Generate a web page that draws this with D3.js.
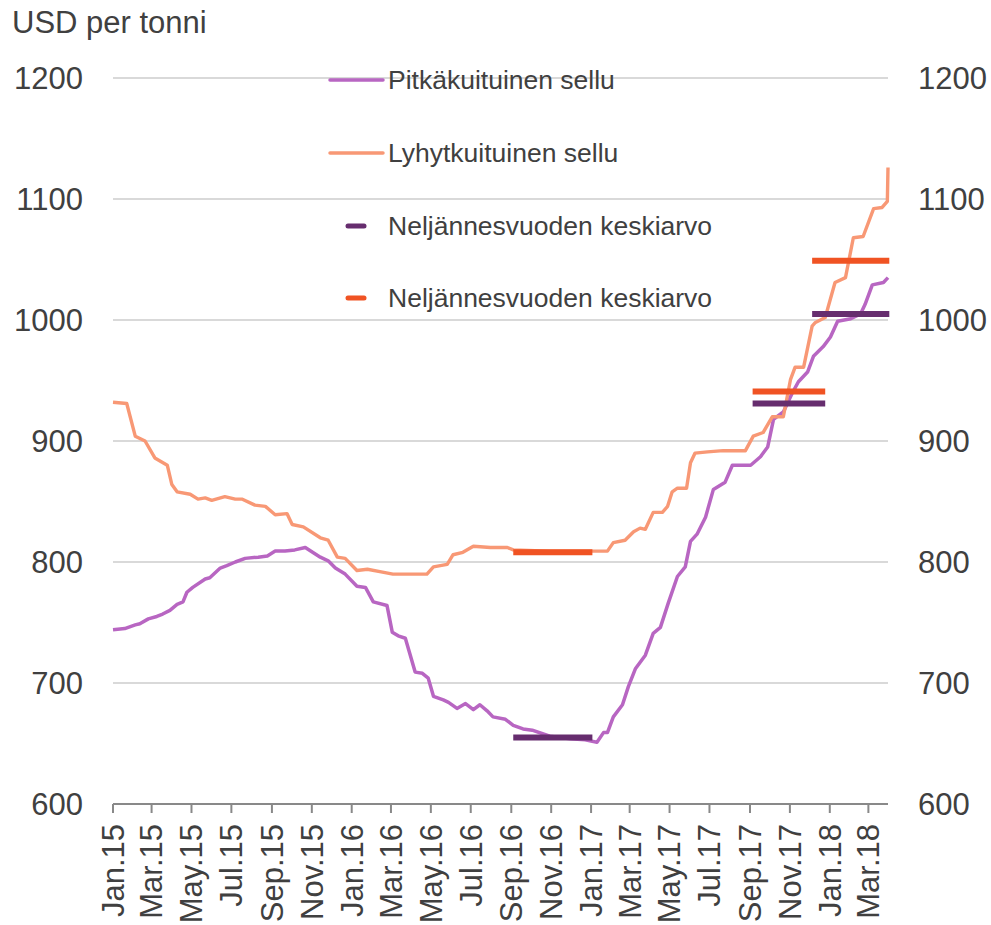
<html>
<head>
<meta charset="utf-8">
<script src="https://cdnjs.cloudflare.com/ajax/libs/d3/7.8.5/d3.min.js"></script>
<style>
body { margin: 0; background: #fff; }
text { font-family: "Liberation Sans", Arial, sans-serif; fill: #404040; }
.grid { stroke: #d9d9d9; stroke-width: 2; }
.axis { stroke: #898989; stroke-width: 2; }
path { fill: none; }
</style>
</head>
<body>
<script>

// Pitkäkuituinen sellu (long fibre pulp), USD per tonne
var pitkaDates = ["2015-01-01","2015-01-19","2015-02-04","2015-02-11","2015-02-24","2015-03-09","2015-03-18","2015-03-29",
  "2015-04-09","2015-04-18","2015-04-24","2015-05-03","2015-05-22","2015-05-29","2015-06-14","2015-06-24","2015-07-07",
  "2015-07-22","2015-08-11","2015-08-25","2015-09-06","2015-09-21","2015-10-06","2015-10-22","2015-11-14","2015-11-26",
  "2015-12-07","2015-12-22","2016-01-09","2016-01-22","2016-02-03","2016-02-24","2016-03-03","2016-03-12","2016-03-23",
  "2016-04-07","2016-04-18","2016-04-27","2016-05-05","2016-05-20","2016-05-28","2016-06-10","2016-06-23","2016-07-05",
  "2016-07-15","2016-07-26","2016-08-04","2016-08-23","2016-09-04","2016-09-19","2016-10-03","2016-10-30","2016-11-30",
  "2016-12-23","2017-01-10","2017-01-20","2017-01-26","2017-02-04","2017-02-18","2017-02-27","2017-03-10","2017-03-25",
  "2017-04-06","2017-04-17","2017-04-29","2017-05-13","2017-05-25","2017-06-02","2017-06-12","2017-06-25","2017-07-07",
  "2017-07-25","2017-08-05","2017-09-02","2017-09-17","2017-09-28","2017-10-07","2017-10-22","2017-11-05","2017-11-14",
  "2017-11-28","2017-12-07","2017-12-22","2018-01-02","2018-01-13","2018-02-02","2018-02-17","2018-02-24","2018-03-07",
  "2018-03-24","2018-03-31"];
var pitkaValues = [744,745,748,749,753,755,757,760,
  765,767,775,779,786,787,795,797,800,
  803,804,805,809,809,810,812,804,801,
  795,790,780,779,767,764,742,739,737,
  709,708,704,689,686,684,679,683,678,
  682,677,672,670,665,662,661,656,654,
  653,651,659,659,672,682,697,712,723,
  741,746,766,788,796,817,823,837,860,
  866,880,880,887,895,918,924,940,949,
  957,970,978,986,999,1001,1005,1013,1029,
  1031,1035];

// Lyhytkuituinen sellu (short fibre pulp), USD per tonne
var lyhytDates = ["2015-01-01","2015-01-22","2015-02-04","2015-02-19","2015-03-06","2015-03-25","2015-04-01","2015-04-09",
  "2015-04-29","2015-05-11","2015-05-22","2015-06-01","2015-06-21","2015-07-07","2015-07-17","2015-08-06","2015-08-22",
  "2015-09-06","2015-09-24","2015-10-02","2015-10-19","2015-11-14","2015-11-26","2015-12-10","2015-12-22","2016-01-09",
  "2016-01-25","2016-02-13","2016-03-04","2016-03-30","2016-04-25","2016-05-05","2016-05-26","2016-06-04","2016-06-19",
  "2016-07-05","2016-07-31","2016-08-26","2016-09-04","2016-10-30","2017-01-04","2017-01-26","2017-02-04","2017-02-22",
  "2017-03-07","2017-03-17","2017-03-25","2017-04-06","2017-04-20","2017-04-28","2017-05-05","2017-05-13","2017-05-27",
  "2017-06-02","2017-06-09","2017-06-28","2017-07-22","2017-08-25","2017-09-06","2017-09-21","2017-10-05","2017-10-22",
  "2017-11-02","2017-11-09","2017-11-22","2017-12-05","2017-12-10","2017-12-25","2018-01-09","2018-01-25","2018-02-06",
  "2018-02-21","2018-03-09","2018-03-22","2018-03-30","2018-03-31"];
var lyhytValues = [932,931,904,900,886,880,864,858,
  856,852,853,851,854,852,852,847,846,
  839,840,831,829,820,818,804,803,793,
  794,792,790,790,790,796,798,806,808,
  813,812,812,810,809,809,809,816,818,
  825,828,827,841,841,846,858,861,861,
  882,890,891,892,892,904,907,920,920,
  951,961,961,995,998,1002,1031,1035,1068,
  1069,1092,1093,1098,1126];

// Neljännesvuoden keskiarvo (quarterly averages)
var avgStart = ["2016-09-04","2017-09-05","2017-12-05"];
var avgEnd = ["2017-01-03","2017-12-25","2018-04-02"];
var avgPitka = [655,931,1005];
var avgLyhyt = [808,941,1049];

var tickDates = ["2015-01-01","2015-03-01","2015-05-01","2015-07-01","2015-09-01","2015-11-01",
  "2016-01-01","2016-03-01","2016-05-01","2016-07-01","2016-09-01","2016-11-01",
  "2017-01-01","2017-03-01","2017-05-01","2017-07-01","2017-09-01","2017-11-01",
  "2018-01-01","2018-03-01"];
var tickLabels = ["Jan.15","Mar.15","May.15","Jul.15","Sep.15","Nov.15",
  "Jan.16","Mar.16","May.16","Jul.16","Sep.16","Nov.16",
  "Jan.17","Mar.17","May.17","Jul.17","Sep.17","Nov.17",
  "Jan.18","Mar.18"];
var yTicks = [600,700,800,900,1000,1100,1200];

var legendLabels = ["Pitkäkuituinen sellu","Lyhytkuituinen sellu","Neljännesvuoden keskiarvo","Neljännesvuoden keskiarvo"];

var purple = "#b866c2", orange = "#f89875", darkPurple = "#662d6e", darkOrange = "#f05323";

var parse = d3.timeParse("%Y-%m-%d");

var x = d3.scaleTime()
    .domain([parse("2015-01-01"), parse("2018-03-31")])
    .range([113, 888]);

var y = d3.scaleLinear()
    .domain([600, 1200])
    .range([804, 78]);

var svg = d3.select("body").append("svg")
    .attr("width", 991)
    .attr("height", 925);

// gridlines
svg.selectAll(".grid").data(yTicks.slice(1)).enter().append("line")
    .attr("class", "grid")
    .attr("x1", 113).attr("x2", 888)
    .attr("y1", d => y(d)).attr("y2", d => y(d));

// y labels, both sides
svg.selectAll(".yl").data(yTicks).enter().append("text")
    .attr("x", 83).attr("y", d => y(d)).attr("dy", "0.35em")
    .attr("text-anchor", "end").style("font-size", "31px")
    .text(d => d);
svg.selectAll(".yr").data(yTicks).enter().append("text")
    .attr("x", 918).attr("y", d => y(d)).attr("dy", "0.35em")
    .attr("text-anchor", "start").style("font-size", "31px")
    .text(d => d);

svg.append("text").attr("x", 12).attr("y", 33)
    .style("font-size", "31px").text("USD per tonni");

// x axis
svg.append("line").attr("class", "axis")
    .attr("x1", 113).attr("x2", 888).attr("y1", y(600)).attr("y2", y(600));
svg.selectAll(".xt").data(tickDates).enter().append("line")
    .attr("class", "axis")
    .attr("x1", d => x(parse(d))).attr("x2", d => x(parse(d)))
    .attr("y1", y(600)).attr("y2", y(600) + 9);
svg.selectAll(".xl").data(tickDates).enter().append("text")
    .attr("transform", d => "translate(" + x(parse(d)) + "," + (y(600) + 20) + ") rotate(-90)")
    .attr("dy", "0.35em").attr("text-anchor", "end")
    .style("font-size", "31px")
    .text((d, i) => tickLabels[i]);

var line = d3.line()
    .x(d => x(d[0]))
    .y(d => y(d[1]));

var pitka = pitkaDates.map((d, i) => [parse(d), pitkaValues[i]]);
var lyhyt = lyhytDates.map((d, i) => [parse(d), lyhytValues[i]]);

svg.append("path").datum(pitka).attr("d", line)
    .attr("stroke", purple).attr("stroke-width", 3.5).attr("stroke-linejoin", "round");
svg.append("path").datum(lyhyt).attr("d", line)
    .attr("stroke", orange).attr("stroke-width", 3.4).attr("stroke-linejoin", "round");

// quarterly average bars
avgStart.forEach(function (s, i) {
  svg.append("line")
    .attr("x1", x(parse(s))).attr("x2", x(parse(avgEnd[i])))
    .attr("y1", y(avgPitka[i])).attr("y2", y(avgPitka[i]))
    .attr("stroke", darkPurple).attr("stroke-width", 6);
  svg.append("line")
    .attr("x1", x(parse(s))).attr("x2", x(parse(avgEnd[i])))
    .attr("y1", y(avgLyhyt[i])).attr("y2", y(avgLyhyt[i]))
    .attr("stroke", darkOrange).attr("stroke-width", 6);
});

// legend
var legY = [80, 153, 226, 298];
var legColors = [purple, orange, darkPurple, darkOrange];
legendLabels.forEach(function (t, i) {
  var lx1 = i < 2 ? 330 : 348, lx2 = i < 2 ? 383 : 364;
  svg.append("line")
    .attr("x1", lx1).attr("x2", lx2).attr("y1", legY[i]).attr("y2", legY[i])
    .attr("stroke", legColors[i]).attr("stroke-width", i < 2 ? 3.5 : 5)
    .attr("stroke-linecap", "round");
  svg.append("text").attr("x", 388).attr("y", legY[i]).attr("dy", "0.35em")
    .style("font-size", "26.5px").text(t);
});

</script>
</body>
</html>
